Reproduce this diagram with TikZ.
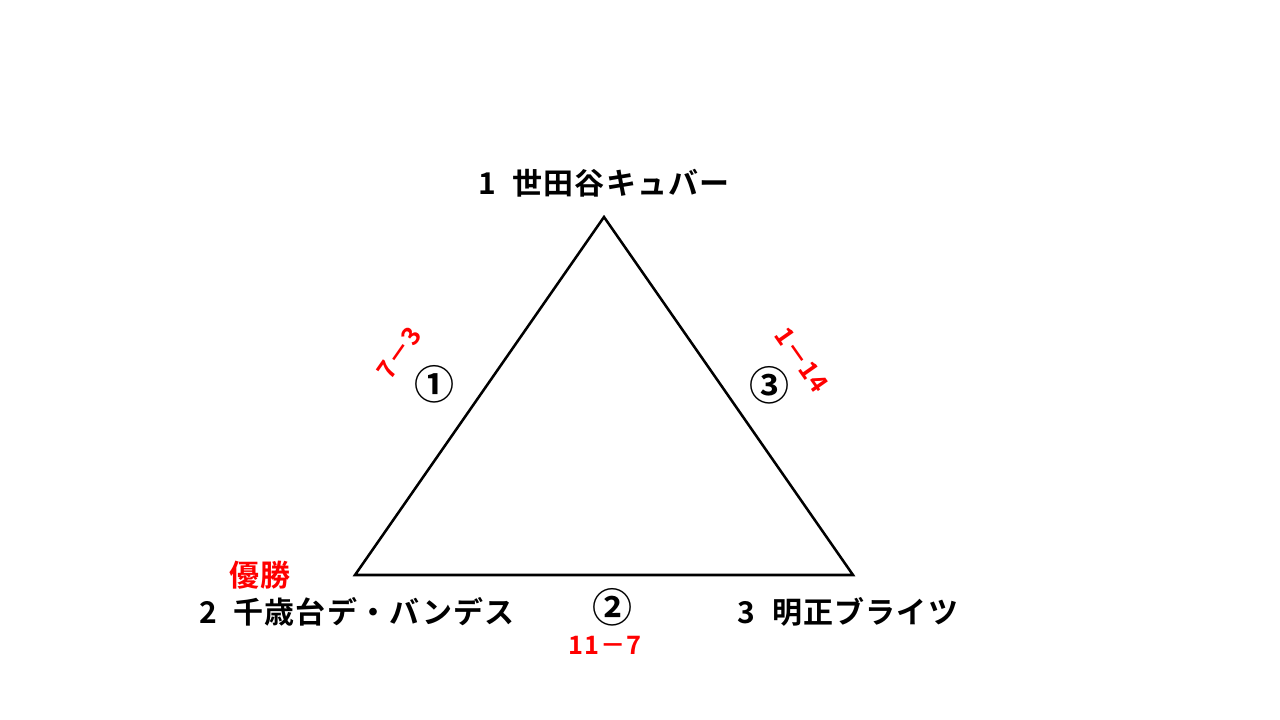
\documentclass[tikz,border=0pt]{standalone}
\usepackage{fontspec}
\setmainfont{Noto Sans CJK JP}[BoldFont={Noto Sans CJK JP Bold}]
\newfontfamily\spaced{Noto Sans CJK JP}[BoldFont={Noto Sans CJK JP Bold},LetterSpace=4]
\newcommand\numgap{\hspace{0.55em}}
\begin{document}
\begin{tikzpicture}[x=0.75pt,y=-0.75pt,
  team/.style={font=\spaced\bfseries\fontsize{22.5}{26}\selectfont, inner sep=0pt},
  score/.style={font=\spaced\bfseries\fontsize{19}{22}\selectfont, text=red, inner sep=0pt},
  circnum/.style={font=\bfseries\fontsize{30}{32}\selectfont, inner sep=0pt},
  edge/.style={line width=1.9pt, line join=miter}]
\fill[white] (0,0) rectangle (1280,720);
\useasboundingbox (0,0) rectangle (1280,720);
\coordinate (A) at (604,217);
\coordinate (B) at (355,575);
\coordinate (C) at (853,575);
\draw[edge] (A) -- (B) -- (C) -- cycle;
\node[team] (t1) at (604,183) {1\numgap 世田谷キュバー};
\node[team] (t2) at (357,612) {2\numgap 千歳台デ・バンデス};
\node[team] (t3) at (848,612) {3\numgap 明正ブライツ};
\node[team, text=red] (win) at (260,575) {優勝};
\node[circnum] (g1) at (434,384) {①};
\node[circnum] (g2) at (612,607) {②};
\node[circnum] (g3) at (769,385) {③};
\node[score, rotate=55] (s1) at (399,353) {7－3};
\node[score, rotate=-55] (s3) at (802,360) {1－14};
\node[score] (s2) at (605,645) {11－7};
\end{tikzpicture}
\end{document}
